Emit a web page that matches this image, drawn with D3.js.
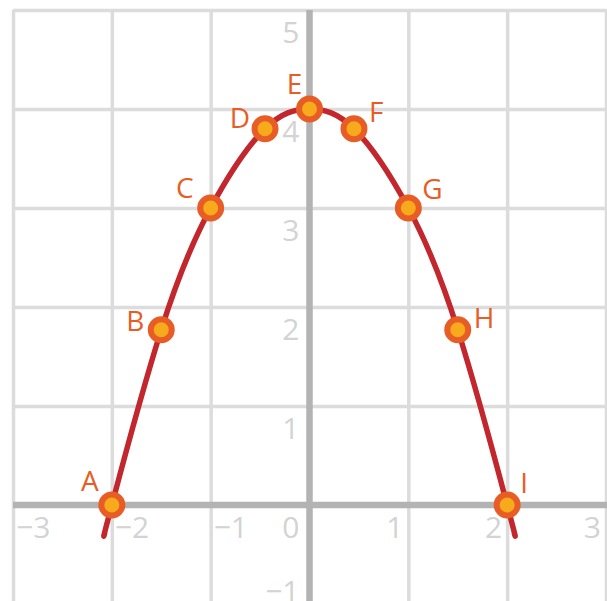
<!DOCTYPE html>
<html>
<head>
<meta charset="utf-8">
<script src="https://cdn.jsdelivr.net/npm/d3@7"></script>
<style>
  html, body { margin: 0; padding: 0; background: #fff; }
  svg { display: block; }
</style>
</head>
<body>
<svg id="chart" width="607" height="601"></svg>
<script>
// data
const pointNames = ["A", "B", "C", "D", "E", "F", "G", "H", "I"];
const pointX = [-2, -1.5, -1, -0.45, 0, 0.45, 1, 1.5, 2];
const pointY = [0, 1.77, 3, 3.8, 4, 3.8, 3, 1.77, 0];
// curve tails past A and I
const curveX = [-2.07, -2, -1.5, -1, -0.45, 0, 0.45, 1, 1.5, 2, 2.07];
const curveY = [-0.28, 0, 1.77, 3, 3.8, 4, 3.8, 3, 1.77, 0, -0.28];
const xTicks = [-3, -2, -1, 0, 1, 2, 3];
const yTicks = [-1, 0, 1, 2, 3, 4, 5];
const xTickLabels = [-3, -2, -1, 1, 2, 3];
const yTickLabels = [5, 4, 3, 2, 1, 0, -1];

// label placement: [anchor, dx, dy]
const labelPos = {
  A: ["end", -13, -14],
  B: ["end", -17, 1],
  C: ["end", -17, -10],
  D: ["end", -15, -1],
  E: ["middle", -15, -15],
  F: ["start", 15, -7],
  G: ["start", 14, -9],
  H: ["start", 16, -2],
  I: ["start", 13, -12]
};

const width = 607, height = 601;
const gridColor = "#dcdcdc";
const axisColor = "#b3b3b3";
const tickColor = "#d3d3d3";
const curveColor = "#c1272d";
const dotStroke = "#e85d25";
const dotFill = "#f7aa1b";
const font = "'Open Sans', 'Noto Sans', sans-serif";

const svg = d3.select("#chart");

const x = d3.scaleLinear().domain([-3, 3]).range([13, 606]);
const y = d3.scaleLinear().domain([-1, 5]).range([604, 10]);

const fmt = (v) => (v < 0 ? "\u2212" + Math.abs(v) : String(v));

// grid
svg.append("g")
  .attr("transform", `translate(0,${y(5)})`)
  .call(d3.axisBottom(x).tickValues(xTicks).tickSize(height).tickFormat(""))
  .call((g) => g.select(".domain").remove())
  .call((g) => g.selectAll("line").attr("stroke", gridColor).attr("stroke-width", 3.5));

svg.append("g")
  .attr("transform", `translate(${x(-3)},0)`)
  .call(d3.axisRight(y).tickValues(yTicks).tickSize(width).tickFormat(""))
  .call((g) => g.select(".domain").remove())
  .call((g) => g.selectAll("line").attr("stroke", gridColor).attr("stroke-width", 3.5));

// main axes
svg.append("line")
  .attr("x1", x(-3)).attr("x2", width)
  .attr("y1", y(0)).attr("y2", y(0))
  .attr("stroke", axisColor).attr("stroke-width", 6.5);

svg.append("line")
  .attr("x1", x(0)).attr("x2", x(0))
  .attr("y1", y(5)).attr("y2", height)
  .attr("stroke", axisColor).attr("stroke-width", 6.5);

// tick labels
svg.selectAll(".xlab")
  .data(xTickLabels)
  .enter()
  .append("text")
  .attr("class", "xlab")
  .attr("x", (d) => (d < 0 ? x(d) + 3 : x(d) - 5))
  .attr("y", y(0) + 33)
  .attr("text-anchor", (d) => (d < 0 ? "start" : "end"))
  .attr("font-family", font)
  .attr("font-size", "30px")
  .attr("fill", tickColor)
  .text(fmt);

svg.selectAll(".ylab")
  .data(yTickLabels)
  .enter()
  .append("text")
  .attr("class", "ylab")
  .attr("x", x(0) - 10)
  .attr("y", (d) => Math.min(y(d) + 33, height + 1))
  .attr("text-anchor", "end")
  .attr("font-family", font)
  .attr("font-size", "30px")
  .attr("fill", tickColor)
  .text(fmt);

// curve
const curveData = curveX.map((d, i) => [d, curveY[i]]);
const line = d3.line()
  .x((d) => x(d[0]))
  .y((d) => y(d[1]))
  .curve(d3.curveNatural);

svg.append("path")
  .datum(curveData)
  .attr("fill", "none")
  .attr("stroke", curveColor)
  .attr("stroke-width", 5.5)
  .attr("d", line);

// points
const points = pointNames.map((n, i) => ({ name: n, x: pointX[i], y: pointY[i] }));

svg.selectAll(".dot")
  .data(points)
  .enter()
  .append("circle")
  .attr("class", "dot")
  .attr("cx", (d) => x(d.x))
  .attr("cy", (d) => y(d.y))
  .attr("r", 10.5)
  .attr("fill", dotFill)
  .attr("stroke", dotStroke)
  .attr("stroke-width", 6);

svg.selectAll(".plab")
  .data(points)
  .enter()
  .append("text")
  .attr("class", "plab")
  .attr("x", (d) => x(d.x) + labelPos[d.name][1])
  .attr("y", (d) => y(d.y) + labelPos[d.name][2])
  .attr("text-anchor", (d) => labelPos[d.name][0])
  .attr("font-family", font)
  .attr("font-size", "28px")
  .attr("fill", dotStroke)
  .text((d) => d.name);
</script>
</body>
</html>
